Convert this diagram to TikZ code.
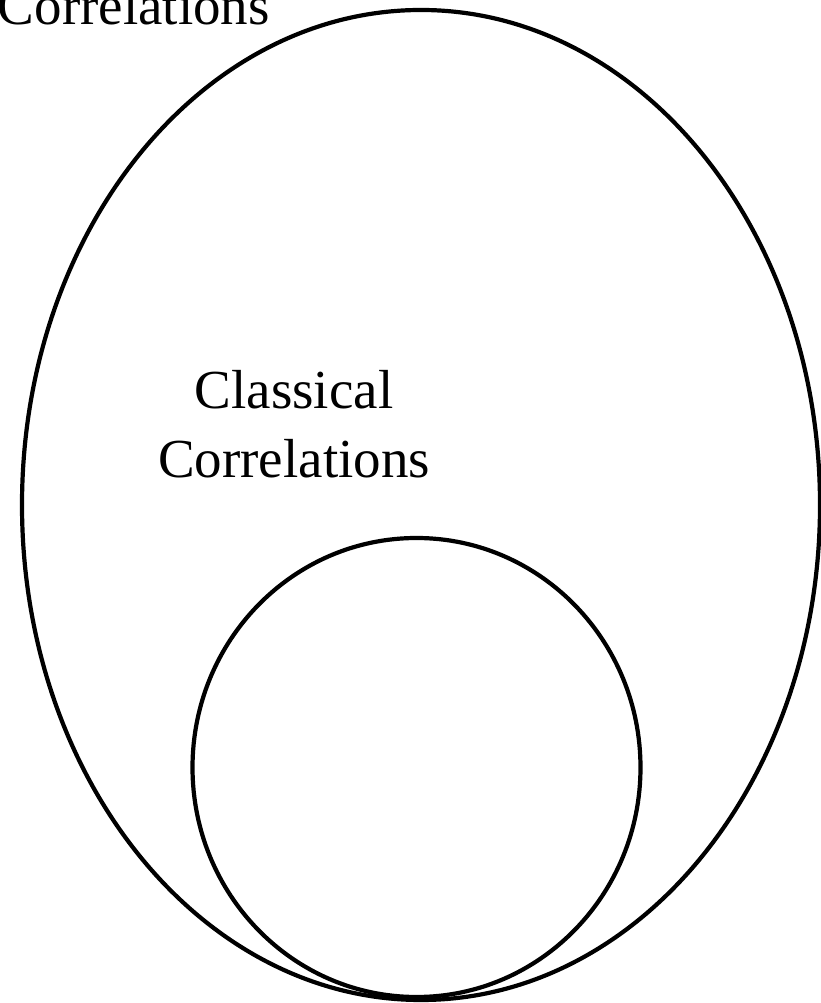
\documentclass[tikz,border=0pt]{standalone}
\usepackage{fontspec}
\setmainfont{Liberation Serif}
\usetikzlibrary{shapes.geometric}
\tikzset{
  outline/.style={draw=black, line width=4.2pt},
  lbl/.style={font=\fontsize{55}{69}\selectfont, inner sep=0pt, align=center}
}
\begin{document}
\begin{tikzpicture}[x=1pt,y=1pt]
\useasboundingbox (0,0) rectangle (821,1003);
\clip (0,0) rectangle (821,1003);
\node[outline, ellipse, minimum width=798pt, minimum height=990pt, inner sep=0pt] (outer) at (421,498) {};
\node[outline, ellipse, minimum width=448pt, minimum height=459pt, inner sep=0pt] (inner) at (416.5,235.5) {};
\node[lbl, anchor=base] (classical) at (294,525) {Classical\\Correlations};
\node[lbl, anchor=base east] (top) at (270,978) {Correlations};
\end{tikzpicture}
\end{document}
